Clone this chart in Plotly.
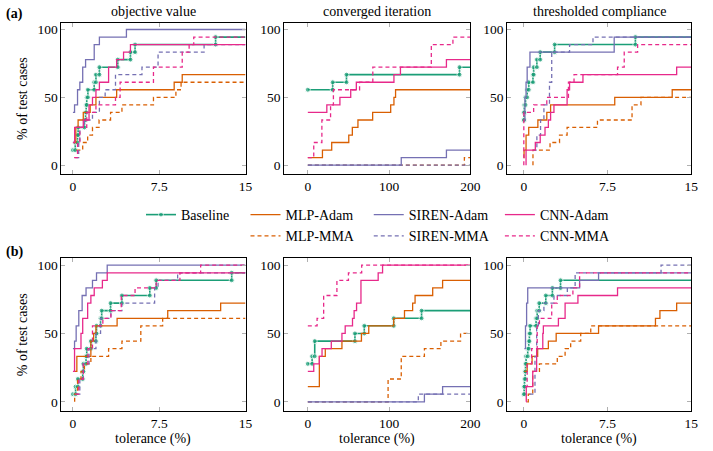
import plotly.graph_objects as go

# ---- data: step positions (tolerance) and % of test cases reached at each step ----
methods = ["Baseline", "MLP-Adam", "MLP-MMA", "SIREN-Adam", "SIREN-MMA", "CNN-Adam", "CNN-MMA"]
panel_titles = ["objective value", "converged iteration", "thresholded compliance"]
row_labels = ["(a)", "(b)"]
x_ticks = [[0, 7.5, 15], [0, 100, 200], [0, 7.5, 15]]
x_tick_text = [["0", "7.5", "15"], ["0", "100", "200"], ["0", "7.5", "15"]]
y_ticks = [0, 50, 100]

# (a) objective value
a_objective = {
    "Baseline": ([0, 0.2, 0.4, 0.45, 1.0, 1.1, 1.15, 1.2, 1.3, 1.85, 2.0, 2.3, 3.9, 5.0, 5.4, 12.4],
                 [11.1, 16.7, 22.2, 27.8, 33.3, 38.9, 44.4, 50.0, 55.6, 61.1, 66.7, 72.2, 77.8, 83.3, 88.9, 94.4]),
    "MLP-Adam": ([0.1, 0.25, 0.45, 0.9, 1.5, 2.0, 3.8, 8.8, 9.5],
                 [16.7, 27.8, 33.3, 38.9, 44.4, 50.0, 55.6, 61.1, 66.7]),
    "MLP-MMA": ([0.3, 0.85, 1.28, 1.7, 2.27, 3.27, 4.26, 7.0, 8.95, 9.4],
                [11.1, 16.7, 22.2, 27.8, 33.3, 38.9, 44.4, 50.0, 55.6, 61.1]),
    "SIREN-Adam": ([0, 0.14, 0.4, 0.6, 0.85, 1.1, 1.85, 2.3, 4.65],
                   [38.9, 44.4, 55.6, 61.1, 72.2, 77.8, 88.9, 94.4, 100]),
    "SIREN-MMA": ([0.2, 0.5, 0.6, 1.0, 1.7, 2.3, 2.8, 3.7, 6.0, 7.4, 11.4],
                  [5.6, 16.7, 27.8, 33.3, 38.9, 50.0, 55.6, 66.7, 72.2, 83.3, 88.9]),
    "CNN-Adam": ([0, 0.15, 0.9, 1.4, 1.7, 2.0, 2.3, 3.1, 3.8, 4.4, 5.0],
                 [16.7, 27.8, 33.3, 44.4, 50.0, 55.6, 61.1, 72.2, 77.8, 83.3, 88.9]),
    "CNN-MMA": ([0.1, 0.4, 0.6, 1.2, 2.0, 3.7, 4.1, 7.0, 9.5, 10.1, 10.5],
                [5.6, 16.7, 27.8, 38.9, 44.4, 50.0, 61.1, 72.2, 83.3, 88.9, 94.4]),
}

# (a) converged iteration
a_iteration = {
    "Baseline": ([0, 30.6, 47.6, 186.7], [55.6, 61.1, 66.7, 72.2]),
    "MLP-Adam": ([0, 18, 29.4, 50.4, 54.8, 61.7, 79.8, 102, 106, 108],
                 [5.6, 11.1, 16.7, 22.2, 27.8, 33.3, 38.9, 44.4, 50.0, 55.6]),
    "MLP-MMA": ([0, 192.7], [0, 5.6]),
    "SIREN-Adam": ([0, 115, 170.6], [0, 5.6, 11.1]),
    "SIREN-MMA": ([0], [0]),
    "CNN-Adam": ([0, 23.4, 39.5, 52.8, 59.7, 106, 114, 170.6],
                 [38.9, 44.4, 50.0, 55.6, 61.1, 66.7, 72.2, 77.8]),
    "CNN-MMA": ([0, 7.3, 17.3, 28, 31.5, 63.7, 80, 152, 178.6],
                [5.6, 16.7, 33.3, 44.4, 55.6, 61.1, 72.2, 88.9, 94.4]),
}

# (a) thresholded compliance
a_compliance = {
    "Baseline": ([0.0, 0.02, 0.04, 0.15, 0.3, 0.44, 0.82, 0.88, 1.17, 1.47, 2.76, 10.0],
                 [33.3, 38.9, 44.4, 50.0, 55.6, 61.1, 66.7, 72.2, 77.8, 83.3, 88.9, 94.4]),
    "MLP-Adam": ([0, 0.02, 0.2, 0.44, 1.26, 2.06, 2.4, 8.15, 13.3],
                 [5.6, 11.1, 22.2, 27.8, 33.3, 38.9, 44.4, 50.0, 55.6]),
    "MLP-MMA": ([0.82, 0.82, 2.35, 3.2, 3.88, 6.6, 9.7, 10.5],
                [0, 11.1, 16.7, 22.2, 27.8, 33.3, 44.4, 50.0]),
    "SIREN-Adam": ([0.0, 0.1, 0.2, 0.3, 0.55, 8.1],
                   [33.3, 50.0, 61.1, 72.2, 83.3, 94.4]),
    "SIREN-MMA": ([0.8, 1.17, 1.5, 1.8, 2.3, 2.5, 4.1, 6.2],
                  [11.1, 22.2, 33.3, 44.4, 61.1, 83.3, 88.9, 94.4]),
    "CNN-Adam": ([0.2, 0.2, 1.03, 1.47, 1.9, 2.2, 2.4, 2.7, 3.88, 4.1, 5.3, 13.7],
                 [0, 11.1, 16.7, 22.2, 27.8, 33.3, 38.9, 44.4, 55.6, 61.1, 66.7, 72.2]),
    "CNN-MMA": ([0, 0, 0.88, 2.06, 4.0, 4.5, 8.4, 9.0, 10.2],
                [0, 38.9, 44.4, 50.0, 61.1, 66.7, 72.2, 83.3, 88.9]),
}

# (b) objective value
b_objective = {
    "Baseline": ([0, 0.23, 0.43, 0.85, 0.91, 1.14, 1.2, 1.56, 2.0, 2.05, 2.4, 2.5, 3.27, 4.26, 6.68, 7.24, 13.8],
                 [5.6, 11.1, 16.7, 22.2, 27.8, 33.3, 38.9, 44.4, 50.0, 55.6, 61.1, 66.7, 72.2, 77.8, 83.3, 88.9, 94.4]),
    "MLP-Adam": ([0.1, 0.34, 1.56, 1.8, 2.0, 3.84, 8.24, 12.84],
                 [22.2, 33.3, 44.4, 50.0, 55.6, 61.1, 66.7, 72.2]),
    "MLP-MMA": ([0.15, 0.15, 0.4, 0.7, 1.0, 1.56, 3.1, 4.26, 5.9, 7.8],
                [0, 5.6, 16.7, 22.2, 27.8, 33.3, 38.9, 44.4, 55.6, 61.1]),
    "SIREN-Adam": ([0, 0.14, 0.28, 0.51, 0.8, 1.14, 1.7, 2.05, 2.98],
                   [38.9, 44.4, 55.6, 66.7, 77.8, 83.3, 88.9, 94.4, 100]),
    "SIREN-MMA": ([0.3, 0.6, 0.9, 1.4, 2.0, 2.4, 3.3, 4.26, 7.1, 7.4, 9.1],
                  [5.6, 16.7, 27.8, 38.9, 50.0, 61.1, 66.7, 72.2, 83.3, 88.9, 94.4]),
    "CNN-Adam": ([0, 0.14, 0.7, 0.85, 1.28, 1.56, 1.85, 2.56, 2.98],
                 [22.2, 38.9, 50.0, 61.1, 72.2, 77.8, 83.3, 88.9, 94.4]),
    "CNN-MMA": ([0.2, 0.5, 0.9, 1.3, 1.7, 2.6, 3.3, 4.2, 5.4, 7.24, 9.3, 11.1],
                [5.6, 16.7, 27.8, 38.9, 55.6, 61.1, 66.7, 77.8, 83.3, 88.9, 94.4, 100]),
}

# (b) converged iteration
b_iteration = {
    "Baseline": ([0, 5.3, 8.5, 58, 69.5, 105.7, 140], [27.8, 33.3, 44.4, 50.0, 55.6, 61.1, 66.7]),
    "MLP-Adam": ([0, 14.2, 21.5, 42, 66, 75, 105.7, 119, 129, 132, 153.7, 165.9],
                 [11.1, 33.3, 38.9, 44.4, 50.0, 55.6, 61.1, 66.7, 72.2, 77.8, 83.3, 88.9]),
    "MLP-MMA": ([0, 98.8, 115, 143.5, 163.8, 188], [0, 16.7, 33.3, 38.9, 44.4, 50.0]),
    "SIREN-Adam": ([0, 143.5, 165.9], [0, 5.6, 11.1]),
    "SIREN-MMA": ([0, 136], [0, 5.6]),
    "CNN-Adam": ([0, 7.3, 14.2, 17.5, 28.9, 42, 46, 55, 57, 60, 65.4, 86.6, 92],
                 [22.2, 27.8, 33.3, 38.9, 44.4, 50.0, 55.6, 61.1, 66.7, 72.2, 88.9, 94.4, 100]),
    "CNN-MMA": ([0, 11.4, 19.5, 35.8, 50, 66.3], [55.6, 61.1, 77.8, 88.9, 94.4, 100]),
}

# (b) thresholded compliance
b_compliance = {
    "Baseline": ([0, 0.03, 0.06, 0.12, 0.15, 0.2, 0.35, 0.44, 0.5, 0.56, 1.1, 1.2, 1.38, 1.97, 2.56, 3.29],
                 [5.6, 11.1, 16.7, 22.2, 27.8, 33.3, 38.9, 44.4, 50.0, 55.6, 61.1, 66.7, 72.2, 77.8, 83.3, 88.9]),
    "MLP-Adam": ([0.05, 0.3, 0.74, 1.24, 2.2, 2.9, 6.7, 11.8, 12.2, 13.7],
                 [22.2, 27.8, 33.3, 38.9, 44.4, 50.0, 55.6, 61.1, 66.7, 72.2]),
    "MLP-MMA": ([0.3, 0.4, 0.8, 1.4, 3.0, 3.7, 4.2, 5.1, 6.0],
                [0, 5.6, 22.2, 27.8, 33.3, 38.9, 44.4, 50.0, 55.6]),
    "SIREN-Adam": ([0.05, 0.15, 0.25, 0.35, 5.0, 6.7],
                   [38.9, 55.6, 72.2, 83.3, 88.9, 94.4]),
    "SIREN-MMA": ([0.5, 1.0, 1.15, 1.3, 1.8, 2.7, 3.9, 4.6, 12.3],
                  [5.6, 33.3, 55.6, 66.7, 72.2, 77.8, 83.3, 94.4, 100]),
    "CNN-Adam": ([0.2, 0.22, 0.8, 1.15, 1.7, 1.75, 3.1, 3.7, 4.85, 8.4],
                 [0, 11.1, 22.2, 38.9, 50.0, 55.6, 61.1, 72.2, 77.8, 83.3]),
    "CNN-MMA": ([0.1, 0.3, 0.7, 1.2, 1.4, 2.5, 3.0, 4.4, 5.0],
                [11.1, 27.8, 38.9, 55.6, 61.1, 72.2, 77.8, 83.3, 94.4]),
}

panels = [[a_objective, a_iteration, a_compliance],
          [b_objective, b_iteration, b_compliance]]

# ---- styles ----
FONT = "Liberation Serif, Times New Roman, serif"
colors = {"Baseline": "#1b9e77", "MLP": "#d95f02", "SIREN": "#7570b3", "CNN": "#e7298a"}
x_ranges = [[-1.0, 15], [-29, 200], [-1.5, 15]]
y_range = [-6.5, 105]
W, H = 713, 451
col_px = [(62.3, 249), (288.3, 477), (514.3, 701)]
row_px = [(22.7, 174), (258.3, 410.7)]
legend_of = {"Baseline": "legend", "MLP": "legend2", "SIREN": "legend3", "CNN": "legend4"}


def px_x(v):
    return v / W


def px_y(v):
    return 1 - v / H


def staircase(xs, ys, xend):
    px, py = [xs[0]], [ys[0]]
    for i in range(1, len(xs)):
        px += [xs[i], xs[i]]
        py += [ys[i - 1], ys[i]]
    px.append(xend)
    py.append(ys[-1])
    return px, py


fig = go.Figure()

for r in range(2):
    for c in range(3):
        idx = r * 3 + c + 1
        xa = "x" if idx == 1 else f"x{idx}"
        ya = "y" if idx == 1 else f"y{idx}"
        for m in methods:
            xs, ys = panels[r][c][m]
            px, py = staircase(xs, ys, x_ranges[c][1])
            fam = m.split("-")[0]
            base = m == "Baseline"
            tr = dict(
                x=px, y=py, xaxis=xa, yaxis=ya, name=m,
                legend=legend_of[fam], showlegend=(idx == 1),
                line=dict(color=colors[fam], width=1.6 if base else 1.3,
                          dash="4px,3px" if m.endswith("MMA") else "solid"),
                hoverinfo="skip",
            )
            if base:
                tr["mode"] = "lines+markers"
                tr["marker"] = dict(size=[5] * (len(px) - 1) + [0], color=colors[fam])
            else:
                tr["mode"] = "lines"
            fig.add_trace(go.Scatter(**tr))

        axis_common = dict(
            showline=True, linecolor="black", linewidth=1, mirror="ticks",
            ticks="inside", ticklen=4, tickcolor="#b0b0b0", tickwidth=1,
            showgrid=False, zeroline=False,
            tickfont=dict(family=FONT, size=13.5, color="black"),
        )
        fig.layout[("xaxis" if idx == 1 else f"xaxis{idx}")] = dict(
            axis_common, anchor=ya, range=x_ranges[c],
            domain=[px_x(col_px[c][0]), px_x(col_px[c][1])],
            tickvals=x_ticks[c], ticktext=x_tick_text[c],
        )
        fig.layout[("yaxis" if idx == 1 else f"yaxis{idx}")] = dict(
            axis_common, anchor=xa, range=y_range,
            domain=[px_y(row_px[r][1]), px_y(row_px[r][0])],
            tickvals=y_ticks,
        )

annotations = []
for c in range(3):
    xc = px_x((col_px[c][0] + col_px[c][1]) / 2)
    annotations.append(dict(text=panel_titles[c], x=xc, y=px_y(11.5), xref="paper", yref="paper",
                            showarrow=False, xanchor="center", yanchor="middle",
                            font=dict(family=FONT, size=14, color="black")))
    annotations.append(dict(text="tolerance (%)", x=xc, y=px_y(439), xref="paper", yref="paper",
                            showarrow=False, xanchor="center", yanchor="middle",
                            font=dict(family=FONT, size=14, color="black")))
for r in range(2):
    yc = px_y((row_px[r][0] + row_px[r][1]) / 2)
    annotations.append(dict(text="% of test cases", x=px_x(23), y=yc, xref="paper", yref="paper",
                            showarrow=False, textangle=-90, xanchor="center", yanchor="middle",
                            font=dict(family=FONT, size=14, color="black")))
    annotations.append(dict(text=f"<b>{row_labels[r]}</b>", x=px_x(4), y=px_y(14 if r == 0 else 252),
                            xref="paper", yref="paper", showarrow=False, xanchor="left", yanchor="middle",
                            font=dict(family=FONT, size=14, color="black")))

legend_common = dict(orientation="v", xanchor="left", yanchor="top", y=px_y(199),
                     bgcolor="rgba(0,0,0,0)", itemwidth=30, tracegroupgap=0,
                     font=dict(family=FONT, size=14, color="black"))

fig.update_layout(
    width=W, height=H,
    margin=dict(l=0, r=0, t=0, b=0),
    plot_bgcolor="white", paper_bgcolor="white",
    annotations=annotations,
    legend=dict(legend_common, x=px_x(181 - 38)),
    legend2=dict(legend_common, x=px_x(287 - 38)),
    legend3=dict(legend_common, x=px_x(412 - 38)),
    legend4=dict(legend_common, x=px_x(545 - 38)),
)

# drop the default 8px body margin so the figure fills the window exactly
fig.write_html("out.html", config={"displayModeBar": False},
               post_script="document.body.style.margin = '0px';")
